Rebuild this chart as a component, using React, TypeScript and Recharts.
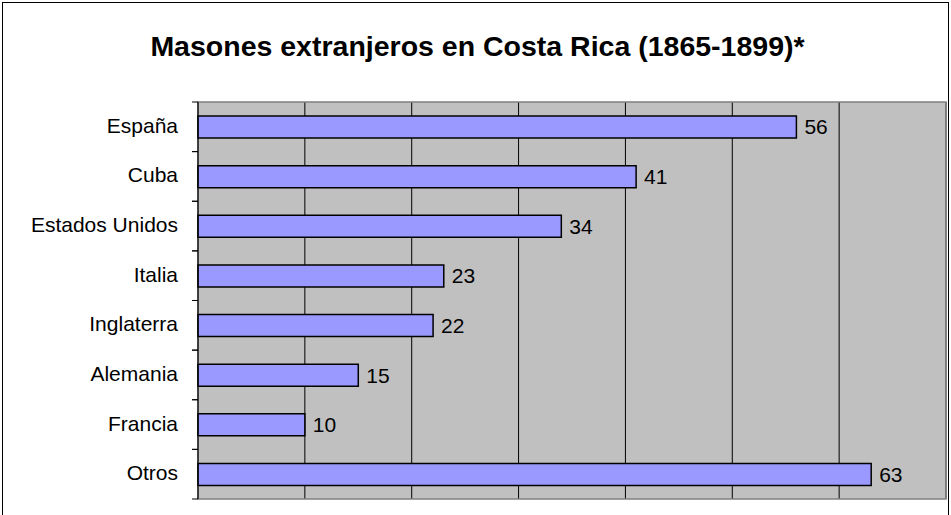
import { BarChart, Bar, XAxis, YAxis, CartesianGrid, LabelList, ReferenceArea } from 'recharts';

const countries = ['España', 'Cuba', 'Estados Unidos', 'Italia', 'Inglaterra', 'Alemania', 'Francia', 'Otros'];
const masones = [56, 41, 34, 23, 22, 15, 10, 63];
const xTicks = [0, 10, 20, 30, 40, 50, 60, 70];

const data = countries.map((name, i) => ({ name, value: masones[i] }));

const FONT = '"Liberation Sans", Arial, sans-serif';
const HALF_BAND = 24.8;

// label at band centre, tick marks on the band boundaries
const CountryTick = (props: any) => {
    const { x, y, payload } = props;
    return (
        <g>
            <line x1={x - 6} x2={x} y1={y - HALF_BAND} y2={y - HALF_BAND} stroke="#000" strokeWidth={1} />
            <line x1={x - 6} x2={x} y1={y + HALF_BAND} y2={y + HALF_BAND} stroke="#000" strokeWidth={1} />
            <text x={x - 20} y={y} dy={6} textAnchor="end" fontSize={21} fill="#000" fontFamily={FONT}>
                {payload.value}
            </text>
        </g>
    );
};

export default function App() {
    return (
        <div style={{ position: 'relative', width: 951, height: 515, overflow: 'hidden', background: '#fff', fontFamily: FONT }}>
            <style>{`body{margin:0}`}</style>
            <div style={{ position: 'absolute', left: 2, top: 2, width: 945, height: 600, border: '1px solid #000' }} />
            <div style={{ position: 'absolute', left: 2, top: 30, width: 951, textAlign: 'center', fontSize: 28.5, fontWeight: 'bold', lineHeight: '32px' }}>
                Masones extranjeros en Costa Rica (1865-1899)*
            </div>
            <div style={{ position: 'absolute', left: 0, top: 0 }}>
                <BarChart
                    width={951}
                    height={515}
                    data={data}
                    layout="vertical"
                    margin={{ top: 102, right: 5, bottom: 16, left: 0 }}
                >
                    <CartesianGrid horizontal={false} stroke="#000" fill="#C0C0C0" />
                    <XAxis type="number" domain={[0, 70]} ticks={xTicks} hide />
                    <YAxis
                        type="category"
                        dataKey="name"
                        width={198}
                        stroke="#000"
                        tickLine={false}
                        tickSize={0}
                        tickMargin={0}
                        tick={<CountryTick />}
                        interval={0}
                    />
                    <ReferenceArea x1={0} x2={70} fill="none" stroke="#808080" strokeWidth={1.5} />
                    <Bar dataKey="value" fill="#9999FF" stroke="#000" strokeWidth={1.5} barSize={22} isAnimationActive={false}>
                        <LabelList dataKey="value" position="right" offset={8} fill="#000" fontSize={21} fontFamily={FONT} />
                    </Bar>
                </BarChart>
            </div>
        </div>
    );
}
